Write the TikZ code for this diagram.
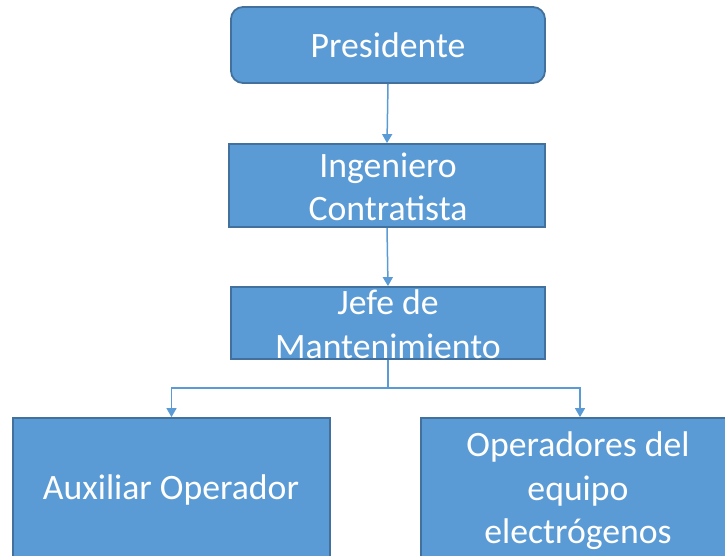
\documentclass[tikz,border=0pt]{standalone}
\usepackage{fontspec}
\setmainfont{Carlito}
\usetikzlibrary{arrows.meta}
\definecolor{fillblue}{HTML}{5B9BD5}
\definecolor{edgeblue}{HTML}{41719C}
\begin{document}
\begin{tikzpicture}[x=1pt,y=-1pt,
  box/.style={draw=edgeblue, fill=fillblue, line width=1.8pt, inner sep=0pt},
  lbl/.style={text=white, font=\fontsize{35.7}{43.5}\selectfont, align=center, inner sep=0pt},
  conn/.style={draw=fillblue, line width=1.5pt, -{Triangle[width=10pt,length=9pt]}}]
\useasboundingbox (0,0) rectangle (725,555);
\clip (0,0) rectangle (725,555);
% boxes
\node[box, rounded corners=12pt, minimum width=314pt, minimum height=76pt] (pres) at (388,45) {};
\node[box, minimum width=316pt, minimum height=83pt] (ing) at (387,185.5) {};
\node[box, minimum width=314pt, minimum height=72pt] (jefe) at (388,323) {};
\node[box, minimum width=317pt, minimum height=144pt] (aux) at (171.5,490) {};
\node[box, minimum width=318pt, minimum height=144pt] (oper) at (580,490) {};
% labels
\node[lbl] (tpres) at (388,45) {Presidente};
\node[lbl] (ting) at (388,187) {Ingeniero\\Contratista};
\node[lbl] (tjefe) at (388,324) {Jefe de\\Mantenimiento};
\node[lbl] (taux) at (171,490) {Auxiliar Operador};
\node[lbl] (toper) at (578,491) {Operadores del\\equipo\\electrógenos};
% connectors
\coordinate (br) at (388,388);
\draw[conn] (pres.south) -- (ing.north);
\draw[conn] (ing.south) -- (jefe.north);
\draw[conn] (jefe.south) -- (br) -| (aux.north);
\draw[conn] (br) -| (oper.north);
\end{tikzpicture}
\end{document}
